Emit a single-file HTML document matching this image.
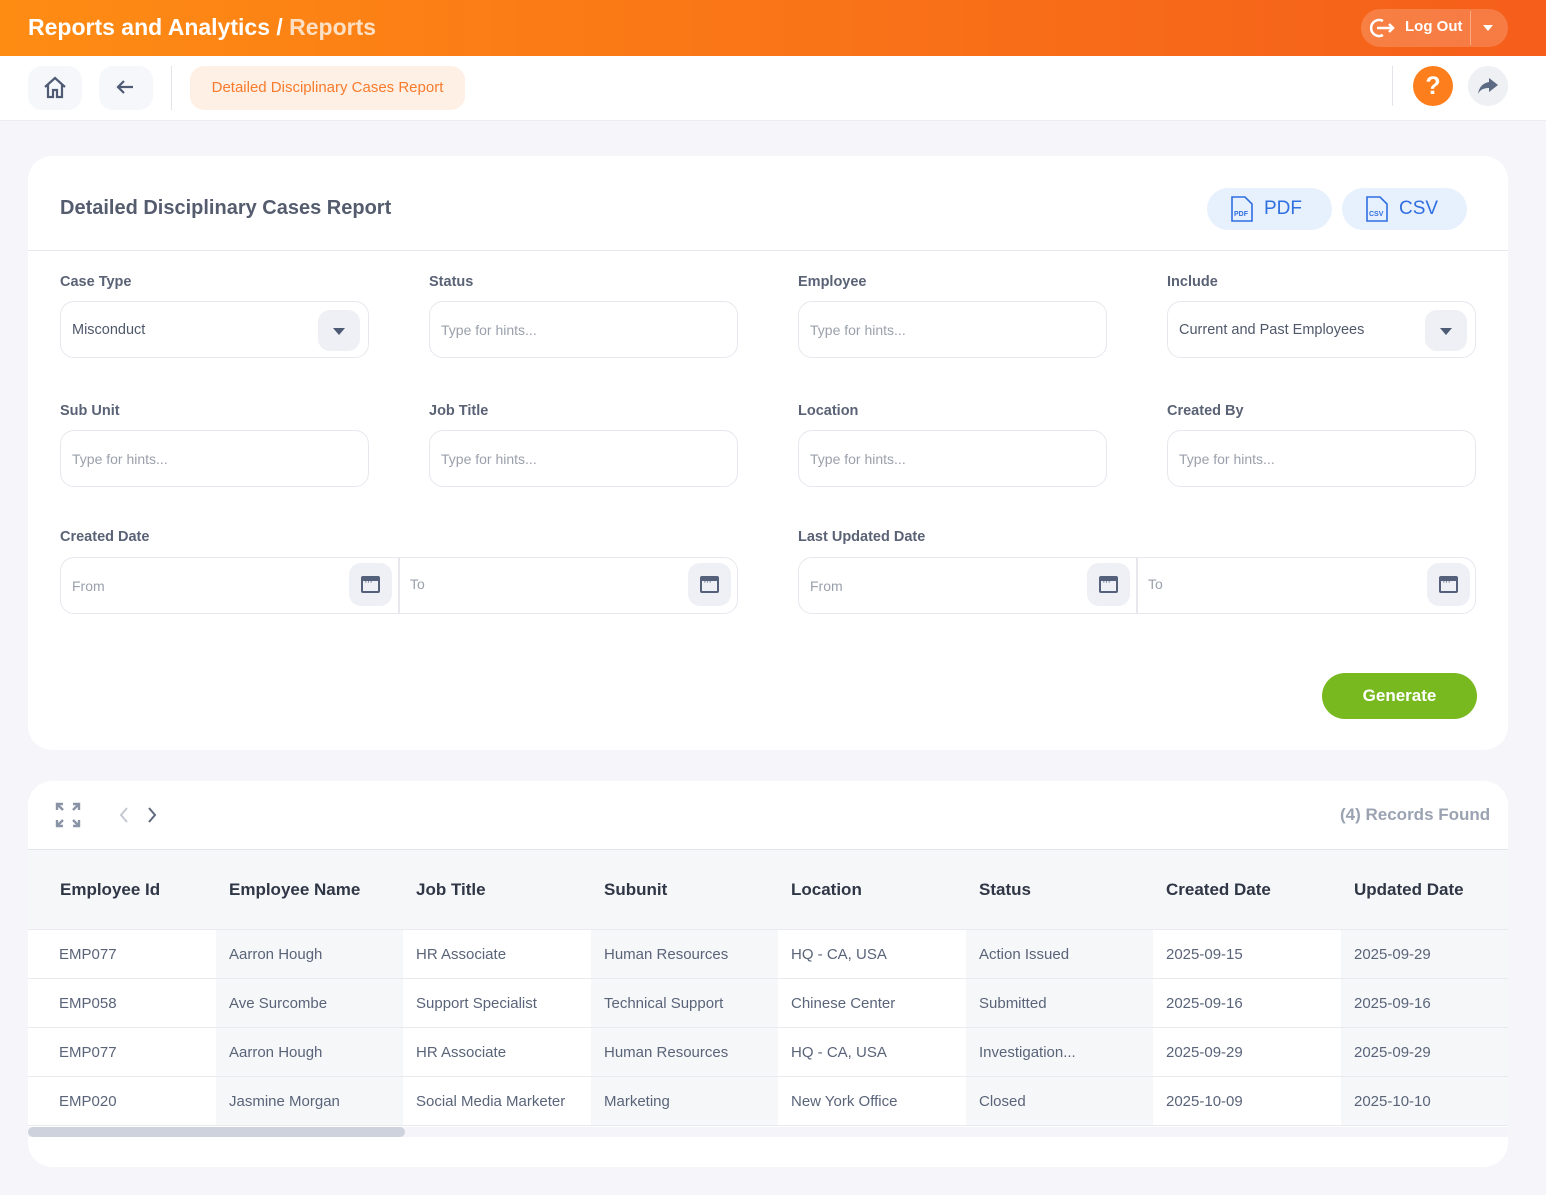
<!DOCTYPE html>
<html><head><meta charset="utf-8"><style>
*{box-sizing:border-box;margin:0;padding:0}
body{width:1546px;height:1195px;background:#f5f5fa;font-family:"Liberation Sans",sans-serif;position:relative;overflow:hidden;color:#4a5568}
.a{position:absolute}
.hdr{left:0;top:0;width:1546px;height:56px;background:linear-gradient(90deg,#fe8c13,#f55e1b)}
.tb{left:0;top:56px;width:1546px;height:65px;background:#fff;border-bottom:1px solid #ececf2}
.sq{width:54px;height:44px;border-radius:14px;background:#f6f7fa;top:66px}
.card{background:#fff;border-radius:24px}
.lbl{font-size:14.5px;font-weight:bold;color:#5a6275}
.inp{height:57px;border:1px solid #e6e8ee;border-radius:14px;background:#fff;font-size:14px;color:#9aa0ab;padding-left:11px;display:flex;align-items:center;width:309px}
.dd{position:absolute;right:8px;top:8px;width:42px;height:41px;background:#eef0f5;border-radius:12px}
.dd:after{content:"";position:absolute;left:15px;top:18px;border-left:6px solid transparent;border-right:6px solid transparent;border-top:7px solid #4c5a73}
.cal{position:absolute;width:43px;height:43px;background:#eef0f5;border-radius:12px;top:6px}
.cal i{position:absolute;left:12px;top:13px;width:19px;height:17px;border:2px solid #55607a;border-top-width:5px;border-radius:2px}
.cal i:after{content:"···";position:absolute;left:1px;top:-5px;font-size:11px;color:#55607a;font-style:normal;letter-spacing:-1px}
.th{top:850px;height:79px;background:#f6f7f9;font-size:17px;font-weight:bold;color:#2f3645;line-height:79px}
.td{font-size:15px;color:#5a6479;height:49px;line-height:49px;padding-left:31px;border-bottom:1px solid #e8eaee}
</style></head><body>
<div class="a hdr"></div>
<div class="a" style="left:28px;top:14px;font-size:23px;font-weight:bold;color:#fff">Reports and Analytics / <span style="color:#fde0c4">Reports</span></div>
<div class="a" style="left:1361px;top:9px;width:147px;height:38px;border-radius:19px;background:rgba(255,255,255,.18)"></div>
<div class="a" style="left:1470px;top:11px;width:1px;height:34px;background:rgba(255,255,255,.35)"></div>
<svg class="a" style="left:1369px;top:17px" width="28" height="22" viewBox="0 0 28 22"><path d="M14 4 A8 8 0 1 0 14 18" fill="none" stroke="#fff" stroke-width="2.5"/><path d="M8 11h16M20 7l4 4-4 4" fill="none" stroke="#fff" stroke-width="2.5"/></svg>
<div class="a" style="left:1405px;top:18px;font-size:15px;font-weight:bold;color:#fff">Log Out</div>
<div class="a" style="left:1483px;top:25px;border-left:5px solid transparent;border-right:5px solid transparent;border-top:6px solid #fff"></div>

<div class="a tb"></div>
<div class="a sq" style="left:28px"></div>
<svg class="a" style="left:42px;top:75px" width="26" height="26" viewBox="0 0 26 26"><path d="M3 12 L13 3 L23 12 M6 10 V22 H11 V15 H15 V22 H20 V10" fill="none" stroke="#4f5b75" stroke-width="2.2"/></svg>
<div class="a sq" style="left:99px"></div>
<svg class="a" style="left:115px;top:78px" width="20" height="18" viewBox="0 0 20 18"><path d="M18 9H3M9 3L3 9l6 6" fill="none" stroke="#4f5b75" stroke-width="2.2"/></svg>
<div class="a" style="left:171px;top:66px;width:1px;height:44px;background:#e2e4ea"></div>
<div class="a" style="left:190px;top:66px;width:275px;height:44px;border-radius:14px;background:#fff0e6;color:#f77b2c;font-size:15px;line-height:44px;text-align:center">Detailed Disciplinary Cases Report</div>
<div class="a" style="left:1392px;top:66px;width:1px;height:40px;background:#e2e4ea"></div>
<div class="a" style="left:1413px;top:66px;width:40px;height:40px;border-radius:50%;background:#fd7e1c;color:#fff;font-weight:bold;font-size:25px;text-align:center;line-height:40px">?</div>
<div class="a" style="left:1468px;top:66px;width:40px;height:40px;border-radius:50%;background:#eff0f3"></div>
<svg class="a" style="left:1477px;top:76px" width="22" height="20" viewBox="0 0 22 20"><path d="M12 2 L21 9 L12 16 V12 C6 12 3 14 1 18 C2 11 6 7 12 6Z" fill="#5c6a83"/></svg>

<div class="a card" style="left:28px;top:156px;width:1480px;height:594px"></div>
<div class="a" style="left:60px;top:197px;font-size:20px;font-weight:bold;color:#545c6e">Detailed Disciplinary Cases Report</div>
<div class="a" style="left:28px;top:250px;width:1480px;height:1px;background:#e6e8ed"></div>
<div class="a" style="left:1207px;top:188px;width:125px;height:42px;border-radius:21px;background:#e7f0fd"></div>
<div class="a" style="left:1342px;top:188px;width:125px;height:42px;border-radius:21px;background:#e7f0fd"></div>
<svg class="a" style="left:1231px;top:196px" width="22" height="26" viewBox="0 0 22 26"><path d="M1 1H14L21 8V25H1Z" fill="none" stroke="#2f6fe0" stroke-width="1.6"/><text x="3" y="20" font-size="7" font-weight="bold" fill="#2f6fe0" font-family="Liberation Sans">PDF</text></svg>
<div class="a" style="left:1264px;top:198px;font-size:19px;color:#2f6fe0">PDF</div>
<svg class="a" style="left:1366px;top:196px" width="22" height="26" viewBox="0 0 22 26"><path d="M1 1H14L21 8V25H1Z" fill="none" stroke="#2f6fe0" stroke-width="1.6"/><text x="3" y="20" font-size="7" font-weight="bold" fill="#2f6fe0" font-family="Liberation Sans">CSV</text></svg>
<div class="a" style="left:1399px;top:198px;font-size:19px;color:#2f6fe0">CSV</div>

<div class="a lbl" style="left:60px;top:274px">Case Type</div>
<div class="a lbl" style="left:429px;top:274px">Status</div>
<div class="a lbl" style="left:798px;top:274px">Employee</div>
<div class="a lbl" style="left:1167px;top:274px">Include</div>
<div class="a inp" style="left:60px;top:301px;color:#4f586a;font-size:14.5px">Misconduct<div class="dd"></div></div>
<div class="a inp" style="left:429px;top:301px">Type for hints...</div>
<div class="a inp" style="left:798px;top:301px">Type for hints...</div>
<div class="a inp" style="left:1167px;top:301px;color:#4f586a;font-size:14.5px">Current and Past Employees<div class="dd"></div></div>

<div class="a lbl" style="left:60px;top:403px">Sub Unit</div>
<div class="a lbl" style="left:429px;top:403px">Job Title</div>
<div class="a lbl" style="left:798px;top:403px">Location</div>
<div class="a lbl" style="left:1167px;top:403px">Created By</div>
<div class="a inp" style="left:60px;top:430px">Type for hints...</div>
<div class="a inp" style="left:429px;top:430px">Type for hints...</div>
<div class="a inp" style="left:798px;top:430px">Type for hints...</div>
<div class="a inp" style="left:1167px;top:430px">Type for hints...</div>

<div class="a lbl" style="left:60px;top:529px">Created Date</div>
<div class="a lbl" style="left:798px;top:529px">Last Updated Date</div>
<div class="a inp" style="left:60px;top:557px;width:678px">From</div>
<div class="a" style="left:398px;top:557px;width:2px;height:56px;background:#e6e8ee"></div>
<div class="a" style="left:410px;top:576px;font-size:14px;color:#9aa0ab">To</div>
<div class="cal" style="left:349px;top:563px"><i></i></div>
<div class="cal" style="left:688px;top:563px"><i></i></div>
<div class="a inp" style="left:798px;top:557px;width:678px">From</div>
<div class="a" style="left:1136px;top:557px;width:2px;height:56px;background:#e6e8ee"></div>
<div class="a" style="left:1148px;top:576px;font-size:14px;color:#9aa0ab">To</div>
<div class="cal" style="left:1087px;top:563px"><i></i></div>
<div class="cal" style="left:1427px;top:563px"><i></i></div>

<div class="a" style="left:1322px;top:673px;width:155px;height:46px;border-radius:23px;background:#78b920;color:#fff;font-weight:bold;font-size:17px;text-align:center;line-height:46px">Generate</div>

<div class="a card" style="left:28px;top:781px;width:1480px;height:386px"></div>
<svg class="a" style="left:55px;top:802px" width="26" height="26" viewBox="0 0 26 26" fill="none" stroke="#8a94a6" stroke-width="2.4"><path d="M2 8V2H8M2 2l6 6M24 8V2H18M24 2l-6 6M2 18v6h6M2 24l6-6M24 18v6h-6M24 24l-6-6"/></svg>
<svg class="a" style="left:117px;top:806px" width="44" height="18" viewBox="0 0 44 18" fill="none" stroke-width="2"><path d="M10 2L4 9l6 7" stroke="#c4c9d2"/><path d="M32 2l6 7-6 7" stroke="#5f6a7e"/></svg>
<div class="a" style="left:1340px;top:805px;font-size:17px;font-weight:bold;color:#9ba3b2">(4) Records Found</div>
<div class="a" style="left:28px;top:849px;width:1480px;height:1px;background:#e3e5ea"></div>

<div class="a th" style="left:28px;width:1480px"></div>
<div class="a th" style="left:60px">Employee Id</div>
<div class="a th" style="left:229px">Employee Name</div>
<div class="a th" style="left:416px">Job Title</div>
<div class="a th" style="left:604px">Subunit</div>
<div class="a th" style="left:791px">Location</div>
<div class="a th" style="left:979px">Status</div>
<div class="a th" style="left:1166px">Created Date</div>
<div class="a th" style="left:1354px">Updated Date</div>

<div class="a" style="left:28px;top:929px;width:1480px;display:flex;border-top:1px solid #e8eaee">
<div style="width:188px;background:#fff"><div class="td">EMP077</div><div class="td">EMP058</div><div class="td">EMP077</div><div class="td">EMP020</div></div>
<div style="width:187px;background:#f6f7f9"><div class="td" style="padding-left:13px">Aarron Hough</div><div class="td" style="padding-left:13px">Ave Surcombe</div><div class="td" style="padding-left:13px">Aarron Hough</div><div class="td" style="padding-left:13px">Jasmine Morgan</div></div>
<div style="width:188px;background:#fff"><div class="td" style="padding-left:13px">HR Associate</div><div class="td" style="padding-left:13px">Support Specialist</div><div class="td" style="padding-left:13px">HR Associate</div><div class="td" style="padding-left:13px">Social Media Marketer</div></div>
<div style="width:187px;background:#f6f7f9"><div class="td" style="padding-left:13px">Human Resources</div><div class="td" style="padding-left:13px">Technical Support</div><div class="td" style="padding-left:13px">Human Resources</div><div class="td" style="padding-left:13px">Marketing</div></div>
<div style="width:188px;background:#fff"><div class="td" style="padding-left:13px">HQ - CA, USA</div><div class="td" style="padding-left:13px">Chinese Center</div><div class="td" style="padding-left:13px">HQ - CA, USA</div><div class="td" style="padding-left:13px">New York Office</div></div>
<div style="width:187px;background:#f6f7f9"><div class="td" style="padding-left:13px">Action Issued</div><div class="td" style="padding-left:13px">Submitted</div><div class="td" style="padding-left:13px">Investigation...</div><div class="td" style="padding-left:13px">Closed</div></div>
<div style="width:188px;background:#fff"><div class="td" style="padding-left:13px">2025-09-15</div><div class="td" style="padding-left:13px">2025-09-16</div><div class="td" style="padding-left:13px">2025-09-29</div><div class="td" style="padding-left:13px">2025-10-09</div></div>
<div style="width:167px;background:#f6f7f9"><div class="td" style="padding-left:13px">2025-09-29</div><div class="td" style="padding-left:13px">2025-09-16</div><div class="td" style="padding-left:13px">2025-09-29</div><div class="td" style="padding-left:13px">2025-10-10</div></div>
</div>
<div class="a" style="left:28px;top:1127px;width:1480px;height:10px;background:#f4f4fa"></div>
<div class="a" style="left:28px;top:1127px;width:377px;height:10px;border-radius:5px;background:#cdd2dd"></div>
</body></html>
